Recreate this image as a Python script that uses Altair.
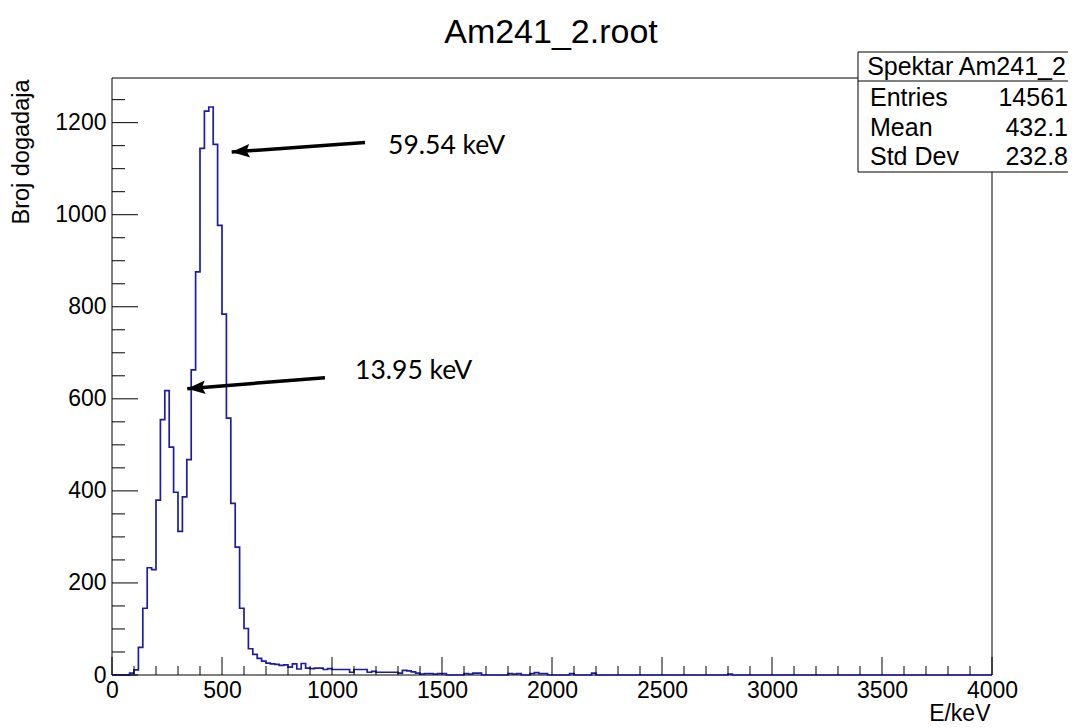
import altair as alt
import pandas as pd

# ---------------- data ----------------
BIN_WIDTH = 20          # keV per bin
E_MAX = 4000            # x range of the histogram
N_MAX = 1297            # y range (ROOT: 1.05 * max)

core_start = 60         # first bin (keV) of the consecutive block below
core_counts = [0, 4, 11, 60, 145, 233, 229, 380, 555, 618,
               495, 397, 312, 387, 468, 663, 876, 1144, 1225, 1234,
               1153, 977, 784, 558, 373, 278, 145, 101, 57, 45,
               36, 30, 26, 24, 23, 21, 22, 17, 24, 13,
               25, 15, 14, 15, 15, 12, 14, 12, 12, 12,
               12, 6, 12, 12, 12, 6, 8, 6, 6, 6,
               6, 6, 4, 10, 9, 7, 4]

tail_energy = [1400, 1420, 1440, 1460, 1480, 1500, 1600, 1620, 1640, 1660,
               1800, 1820, 1840, 1900, 1920, 1940, 1960, 2080, 2180, 2800]
tail_counts = [2, 3, 3, 2, 3, 3, 3, 2, 4, 4,
               3, 2, 3, 3, 5, 3, 3, 3, 4, 2]

x_major = [0, 500, 1000, 1500, 2000, 2500, 3000, 3500, 4000]
y_major = [0, 200, 400, 600, 800, 1000, 1200]

arrow_tail_E = [1150, 968]
arrow_tail_N = [1157, 646]
arrow_head_E = [544, 342]
arrow_head_N = [1136, 622]
arrow_angle = [355.8, 355.3]

note_E = [1255, 1105]
note_N = [1150, 661]
note_text = ["59.54 keV", "13.95 keV"]

stat_title = "Spektar Am241_2"
stat_names = ["Entries", "Mean", "Std Dev"]
stat_values = ["14561", "432.1", "232.8"]

chart_title = "Am241_2.root"
x_title = "E/keV"
y_title = "Broj dogadaja"

# ---------------- tables ----------------
counts = {e: 0 for e in range(0, E_MAX, BIN_WIDTH)}
for i, c in enumerate(core_counts):
    counts[core_start + i * BIN_WIDTH] = c
for e, c in zip(tail_energy, tail_counts):
    counts[e] = c
hist_df = pd.DataFrame([{"E": e, "N": counts[e]} for e in sorted(counts)] + [{"E": E_MAX, "N": 0}])

x_minor = [v for v in range(0, E_MAX + 1, 100) if v % 500]
y_minor = [v for v in range(0, 1251, 50) if v % 200]

arrows_df = pd.DataFrame({"E0": arrow_tail_E, "N0": arrow_tail_N,
                          "E1": arrow_head_E, "N1": arrow_head_N, "ang": arrow_angle})
notes_df = pd.DataFrame({"E": note_E, "N": note_N, "label": note_text})
one = pd.DataFrame({"k": [0]})

# ---------------- layout ----------------
W, H = 880, 597
FONT = "Liberation Sans"
x_scale = alt.Scale(domain=[0, E_MAX], nice=False, zero=False)
y_scale = alt.Scale(domain=[0, N_MAX], nice=False)

AX_X = alt.Axis(
    values=x_major, format="d", title=x_title, ticks=False, tickSize=0, domain=False, grid=False,
    labelFont=FONT, labelFontSize=23, labelColor="black", labelPadding=4,
    labelFlush=False, labelOverlap=False,
    titleFont=FONT, titleFontSize=23, titleFontWeight="normal", titleColor="black",
    titleX=W - 2, titleY=38, titleAlign="right", titleBaseline="middle")
AX_Y = alt.Axis(
    values=y_major, format="d", title=y_title, ticks=False, tickSize=0, domain=False, grid=False,
    labelFont=FONT, labelFontSize=23, labelColor="black", labelPadding=6,
    labelFlush=False, labelOverlap=False,
    titleFont=FONT, titleFontSize=23.5, titleFontWeight="normal", titleColor="black",
    titleX=-91, titleY=1, titleAngle=270, titleAlign="right", titleBaseline="middle")

def X(field):
    return alt.X(field, scale=x_scale, axis=AX_X, title=x_title)

def Y(field):
    return alt.Y(field, scale=y_scale, axis=AX_Y, title=y_title)

frame = alt.Chart(one).mark_rect(filled=False, stroke="black", strokeWidth=1).encode(
    x=alt.value(0), x2=alt.value(W), y=alt.value(0), y2=alt.value(H))

hist = alt.Chart(hist_df).mark_line(interpolate="step-after", color="#1c1ca6", strokeWidth=1.7).encode(
    x=X("E:Q"), y=Y("N:Q"))

def xticks(vals, length):
    return alt.Chart(pd.DataFrame({"v": vals})).mark_rule(color="black", strokeWidth=1).encode(
        x=X("v:Q"), y=alt.value(H), y2=alt.value(H - length))

def yticks(vals, length):
    return alt.Chart(pd.DataFrame({"v": vals})).mark_rule(color="black", strokeWidth=1).encode(
        y=Y("v:Q"), x=alt.value(0), x2=alt.value(length))

ARROW = "M 0 0 L 2 -0.75 L 1.65 0 L 2 0.75 Z"
shafts = alt.Chart(arrows_df).mark_rule(color="black", strokeWidth=3.5).encode(
    x=X("E0:Q"), y=Y("N0:Q"), x2="E1:Q", y2="N1:Q")
heads = alt.Chart(arrows_df).mark_point(shape=ARROW, filled=True, fill="black", strokeWidth=0,
                                         size=324, opacity=1).encode(
    x=X("E1:Q"), y=Y("N1:Q"), angle=alt.Angle("ang:Q", scale=None))
notes = alt.Chart(notes_df).mark_text(align="left", baseline="middle", font="Lato",
                                      fontSize=26.5, color="black").encode(
    x=X("E:Q"), y=Y("N:Q"), text="label:N")

BX0, BX1, BY0, BY1 = 746, 961, -26, 94
stat_box = alt.Chart(one).mark_rect(fill="white", stroke="black", strokeWidth=1).encode(
    x=alt.value(BX0), x2=alt.value(BX1), y=alt.value(BY0), y2=alt.value(BY1))
stat_div = alt.Chart(one).mark_rule(color="black", strokeWidth=1).encode(
    x=alt.value(BX0), x2=alt.value(BX1), y=alt.value(3))
STAT_FS = 25
stat_layers = [stat_box, stat_div,
               alt.Chart(one).mark_text(text=stat_title, align="center", baseline="middle", font=FONT,
                                        fontSize=STAT_FS, color="black").encode(
                   x=alt.value((BX0 + BX1) / 2 + 1), y=alt.value(-11))]
row_y = [20, 50, 79]
for name, val, ry in zip(stat_names, stat_values, row_y):
    stat_layers.append(alt.Chart(one).mark_text(text=name, align="left", baseline="middle", font=FONT,
                                                fontSize=STAT_FS, color="black").encode(
        x=alt.value(BX0 + 12), y=alt.value(ry)))
    stat_layers.append(alt.Chart(one).mark_text(text=val, align="right", baseline="middle", font=FONT,
                                                fontSize=STAT_FS, color="black").encode(
        x=alt.value(BX1 - 5), y=alt.value(ry)))

title = alt.Chart(one).mark_text(text=chart_title, align="center", baseline="alphabetic", font=FONT,
                                 fontSize=34, color="black").encode(
    x=alt.value(W / 2 - 1), y=alt.value(-35))

chart = alt.layer(
    frame, hist,
    xticks(x_major, 18), xticks(x_minor, 9), yticks(y_major, 26), yticks(y_minor, 13),
    shafts, heads, notes, *stat_layers, title,
).properties(
    width=W, height=H,
    autosize=alt.AutoSizeParams(type="none"),
    padding={"left": 104, "top": 70, "right": 76, "bottom": 52},
).configure(background="white").configure_view(strokeWidth=0)

chart.save("out.html", embed_options={"renderer": "svg", "actions": False})
